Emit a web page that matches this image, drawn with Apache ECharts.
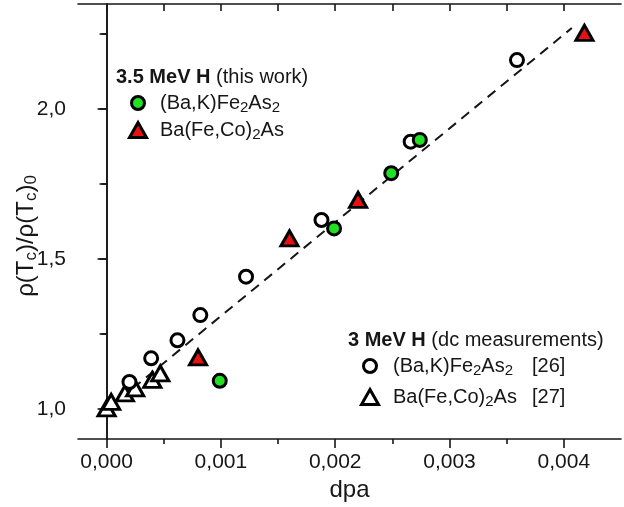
<!DOCTYPE html>
<html><head><meta charset="utf-8">
<script src="https://cdn.jsdelivr.net/npm/echarts@6/dist/echarts.min.js"></script>
<style>html,body{margin:0;padding:0;background:#fff}#c{width:624px;height:507px}</style>
</head><body><div id="c"></div>
<script>
// ---- data ----
const dpaTicks = [0, 0.001, 0.002, 0.003, 0.004];
const dpaMinorTicks = [0.0005, 0.0015, 0.0025, 0.0035];
const rhoTicks = [1.0, 1.5, 2.0];
const rhoMinorTicks = [1.25, 1.75, 2.25];

// 3 MeV H (dc measurements) (Ba,K)Fe2As2 [26]
const bakDcDpa = [0.00020, 0.00039, 0.00062, 0.00082, 0.00122, 0.00188, 0.00266, 0.00359];
const bakDcRho = [1.090, 1.169, 1.229, 1.313, 1.441, 1.630, 1.891, 2.163];
// 3 MeV H (dc measurements) Ba(Fe,Co)2As [27]
const bfcaDcDpa = [0.00000, 0.00004, 0.00016, 0.00025, 0.00040, 0.00047];
const bfcaDcRho = [1.002, 1.024, 1.052, 1.069, 1.097, 1.119];
// 3.5 MeV H (this work) (Ba,K)Fe2As2
const bakHDpa = [0.00099, 0.00199, 0.00249, 0.00274];
const bakHRho = [1.094, 1.602, 1.786, 1.897];
// 3.5 MeV H (this work) Ba(Fe,Co)2As
const bfcaHDpa = [0.00080, 0.00160, 0.00220, 0.00418];
const bfcaHRho = [1.172, 1.569, 1.697, 2.254];
// linear guide
const fitDpa = [0, 0.00407];
const fitRho = [0.997, 2.270];

const zip = (a, b) => a.map((v, i) => [v, b[i]]);

const FONT = 'Liberation Sans, Arial, sans-serif';
const INK = '#161616';
const X_MIN = -0.00025, X_MAX = 0.0045, Y_MIN = 0.9, Y_MAX = 2.35;
const halfSteps = [0, 0.0005, 0.001, 0.0015, 0.002, 0.0025, 0.003, 0.0035, 0.004];
const quarterSteps = [1.0, 1.25, 1.5, 1.75, 2.0, 2.25];

const lineSt = { color: INK, width: 1.6 };
const chart = echarts.init(document.getElementById('c'), null, { renderer: 'canvas' });

const subRich = {
  s: { fontSize: 15, fontFamily: FONT, color: INK, verticalAlign: 'bottom', padding: [10, 0, 0, 0] },
  b: { fontSize: 20, fontFamily: FONT, fontWeight: 'bold', color: INK }
};

function legendText(x, y, text, size) {
  return {
    type: 'text', x: x, y: y, z: 100,
    style: { text: text, fontSize: size || 20, fontFamily: FONT, fill: INK, verticalAlign: 'middle', align: 'left', rich: subRich }
  };
}
function legendCircle(cx, cy, fill) {
  return { type: 'circle', z: 100, shape: { cx: cx, cy: cy, r: 6.5 }, style: { fill: fill, stroke: '#000', lineWidth: 3 } };
}
function legendTri(cx, cy, fill) {
  const w = 17, h = 15;
  return { type: 'polygon', z: 100, shape: { points: [[cx, cy - h / 2], [cx + w / 2, cy + h / 2], [cx - w / 2, cy + h / 2]] },
    style: { fill: fill, stroke: '#000', lineWidth: 3, lineJoin: 'miter' } };
}

const markerStyle = (fill) => ({ color: fill, borderColor: '#000', borderWidth: 3, opacity: 1 });

chart.setOption({
  animation: false,
  backgroundColor: '#fff',
  grid: { left: 78, right: 3, top: 4, bottom: 68, containLabel: false },
  xAxis: [
    {
      type: 'value', position: 'bottom', min: X_MIN, max: X_MAX,
      axisLine: { show: true, lineStyle: lineSt },
      axisTick: { show: true, inside: false, length: 9, customValues: dpaTicks, lineStyle: lineSt },
      axisLabel: { show: true, customValues: dpaTicks, margin: 13, fontSize: 21, fontFamily: FONT, color: INK,
        formatter: v => v.toFixed(3).replace('.', ',') },
      splitLine: { show: false },
      name: 'dpa', nameLocation: 'middle', nameGap: 37,
      nameTextStyle: { fontSize: 24, fontFamily: FONT, color: INK }
    },
    {
      type: 'value', position: 'bottom', min: X_MIN, max: X_MAX,
      axisLine: { show: false },
      axisTick: { show: true, inside: false, length: 5, customValues: dpaMinorTicks, lineStyle: lineSt },
      axisLabel: { show: false }, splitLine: { show: false }
    },
    {
      type: 'value', position: 'top', min: X_MIN, max: X_MAX,
      axisLine: { show: true, lineStyle: lineSt },
      axisTick: { show: true, inside: true, length: 7, customValues: halfSteps, lineStyle: lineSt },
      axisLabel: { show: false }, splitLine: { show: false }
    }
  ],
  yAxis: [
    {
      type: 'value', position: 'left', min: Y_MIN, max: Y_MAX,
      axisLine: { show: true, lineStyle: lineSt },
      axisTick: { show: true, inside: false, length: 9, customValues: rhoTicks, lineStyle: lineSt },
      axisLabel: { show: true, customValues: rhoTicks, margin: 12, fontSize: 21, fontFamily: FONT, color: INK,
        formatter: v => v.toFixed(1).replace('.', ',') },
      splitLine: { show: false }
    },
    {
      type: 'value', position: 'left', min: Y_MIN, max: Y_MAX,
      axisLine: { show: false },
      axisTick: { show: true, inside: false, length: 5, customValues: rhoMinorTicks, lineStyle: lineSt },
      axisLabel: { show: false }, splitLine: { show: false }
    },
    {
      type: 'value', position: 'right', min: Y_MIN, max: Y_MAX,
      axisLine: { show: true, lineStyle: lineSt },
      axisTick: { show: true, inside: true, length: 7, customValues: quarterSteps, lineStyle: lineSt },
      axisLabel: { show: false }, splitLine: { show: false }
    }
  ],
  series: [
    {
      name: 'fit', type: 'line', data: zip(fitDpa, fitRho), symbol: 'none', z: 1,
      lineStyle: { color: INK, width: 2, type: [10, 7] }
    },
    {
      name: 'Ba(Fe,Co)2As [27]', type: 'scatter', data: zip(bfcaDcDpa, bfcaDcRho),
      symbol: 'triangle', symbolSize: [17, 15], z: 3, itemStyle: markerStyle('#fff')
    },
    {
      name: '(Ba,K)Fe2As2 [26]', type: 'scatter', data: zip(bakDcDpa, bakDcRho),
      symbol: 'circle', symbolSize: 13, z: 3, itemStyle: markerStyle('#fff')
    },
    {
      name: 'Ba(Fe,Co)2As (this work)', type: 'scatter', data: zip(bfcaHDpa, bfcaHRho),
      symbol: 'triangle', symbolSize: [17, 15], z: 4, itemStyle: markerStyle('#e81010')
    },
    {
      name: '(Ba,K)Fe2As2 (this work)', type: 'scatter', data: zip(bakHDpa, bakHRho),
      symbol: 'circle', symbolSize: 13, z: 4, itemStyle: markerStyle('#22e022')
    }
  ],
  graphic: [
    {
      type: 'text', x: 26, y: 236, rotation: Math.PI / 2, z: 100,
      style: {
        text: 'ρ(T{s|c})/ρ(T{s|c}){s|0}', fontSize: 24, fontFamily: FONT, fill: INK, align: 'center', verticalAlign: 'middle',
        rich: { s: { fontSize: 17, fontFamily: FONT, color: INK, verticalAlign: 'bottom', padding: [10, 0, 0, 0] } }
      }
    },
    legendText(116, 77, '{b|3.5 MeV H} (this work)'),
    legendCircle(138, 103, '#22e022'),
    legendText(160, 103, '(Ba,K)Fe{s|2}As{s|2}'),
    legendTri(138, 130, '#e81010'),
    legendText(160, 130, 'Ba(Fe,Co){s|2}As'),
    legendText(348, 340, '{b|3 MeV H} (dc measurements)'),
    legendCircle(370, 366, '#fff'),
    legendText(393, 366, '(Ba,K)Fe{s|2}As{s|2}'),
    legendText(532, 366, '[26]'),
    legendTri(370, 397, '#fff'),
    legendText(393, 397, 'Ba(Fe,Co){s|2}As'),
    legendText(532, 397, '[27]')
  ]
});
</script>
</body></html>
